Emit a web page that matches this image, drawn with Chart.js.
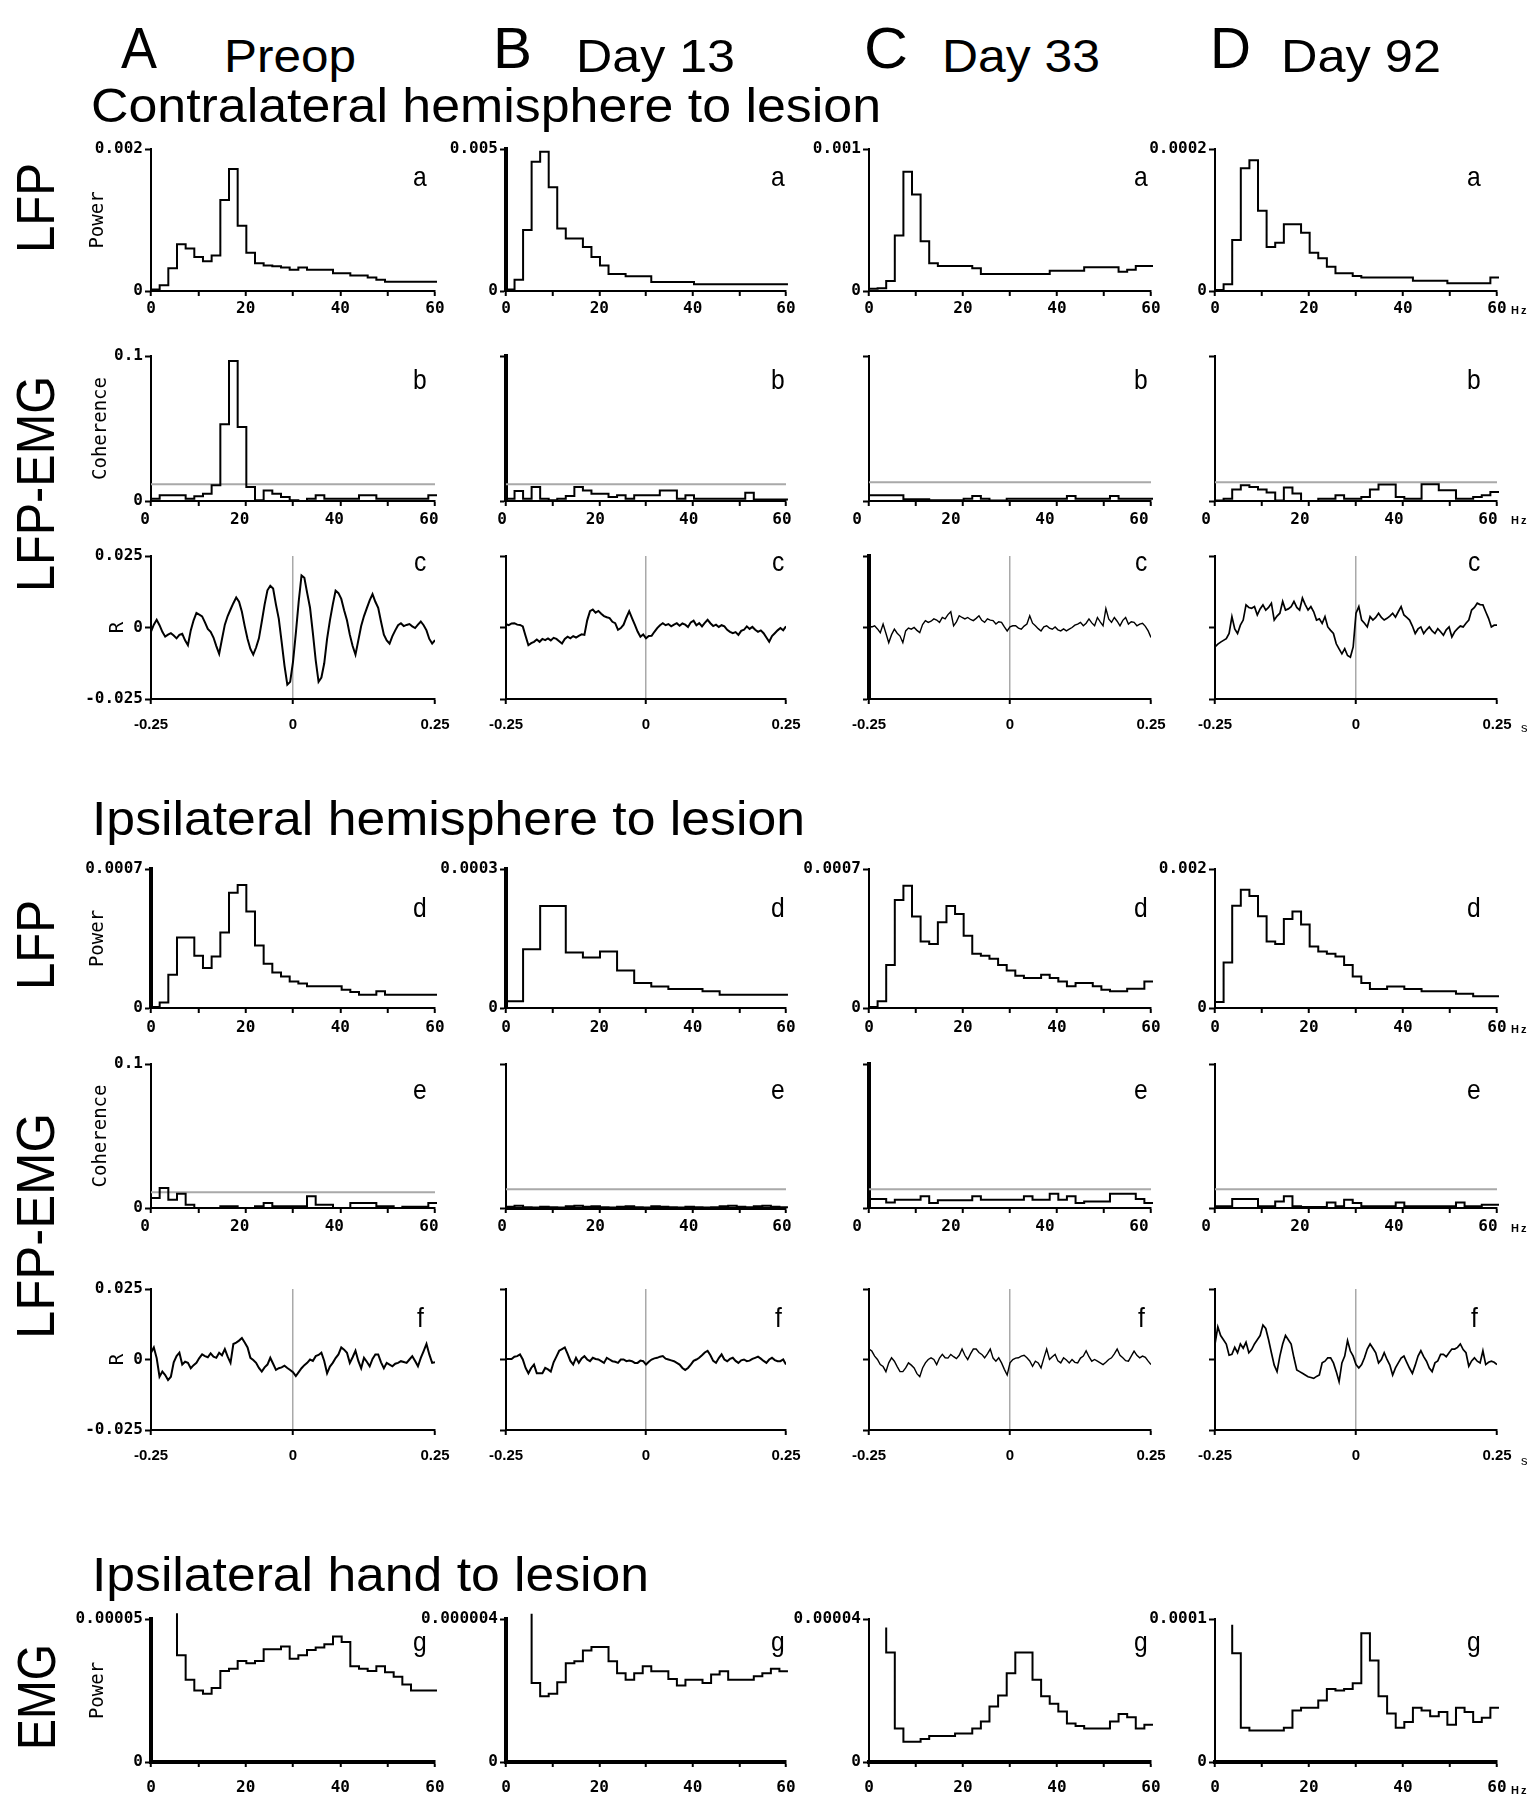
<!DOCTYPE html>
<html>
<head>
<meta charset="utf-8">
<script src="https://cdn.jsdelivr.net/npm/chart.js@4.4.1/dist/chart.umd.min.js"></script>
<style>
  html, body { margin: 0; padding: 0; background: #fff; }
  #page { position: relative; width: 1531px; height: 1802px; overflow: hidden; background: #fff; }
  #page canvas { position: absolute; }
  .lbl { position: absolute; white-space: nowrap; color: #000;
         font-family: "Liberation Sans", Arial, Helvetica, sans-serif; }
</style>
</head>
<body>
<div id="page"></div>
<script>
// ---------------------------------------------------------------------------
// Data
// ---------------------------------------------------------------------------
const sessions = ['Preop', 'Day 13', 'Day 33', 'Day 92'];
const sessionLetters = ['A', 'B', 'C', 'D'];

// Spectral bin edges (Hz); each spectrum value is the level of one bin.
const freqEdges = [0, 1.83, 3.66, 5.49, 7.32, 9.15, 10.98, 12.81, 14.65, 16.48, 18.31,
  20.14, 21.97, 23.8, 25.63, 27.47, 29.3, 31.13, 32.96, 34.79, 36.62, 38.45, 40.28,
  42.11, 43.95, 45.78, 47.61, 49.44, 51.27, 53.1, 54.93, 56.76, 58.59, 60.42];
const freqTickLabels = ['0', '', '20', '', '40', '', '60'];

// Lags (s) of the LFP-EMG cross-correlation
const lagTimes = [-0.25, -0.245, -0.24, -0.235, -0.23, -0.225, -0.22, -0.215, -0.21, -0.205,
  -0.2, -0.195, -0.19, -0.185, -0.18, -0.175, -0.17, -0.165, -0.16, -0.155,
  -0.15, -0.145, -0.14, -0.135, -0.13, -0.125, -0.12, -0.115, -0.11, -0.105,
  -0.1, -0.095, -0.09, -0.085, -0.08, -0.075, -0.07, -0.065, -0.06, -0.055,
  -0.05, -0.045, -0.04, -0.035, -0.03, -0.025, -0.02, -0.015, -0.01, -0.005,
  0, 0.005, 0.01, 0.015, 0.02, 0.025, 0.03, 0.035, 0.04, 0.045,
  0.05, 0.055, 0.06, 0.065, 0.07, 0.075, 0.08, 0.085, 0.09, 0.095,
  0.1, 0.105, 0.11, 0.115, 0.12, 0.125, 0.13, 0.135, 0.14, 0.145,
  0.15, 0.155, 0.16, 0.165, 0.17, 0.175, 0.18, 0.185, 0.19, 0.195,
  0.2, 0.205, 0.21, 0.215, 0.22, 0.225, 0.23, 0.235, 0.24, 0.245, 0.25];
const lagTickLabels = ['-0.25', '0', '0.25'];

// Axis tops
const contraPowerTop = [0.002, 0.005, 0.001, 0.0002];
const contraPowerTopLabels = ['0.002', '0.005', '0.001', '0.0002'];
const ipsiPowerTop = [0.0007, 0.0003, 0.0007, 0.002];
const ipsiPowerTopLabels = ['0.0007', '0.0003', '0.0007', '0.002'];
const emgPowerTop = [0.00005, 0.000004, 0.00004, 0.0001];
const emgPowerTopLabels = ['0.00005', '0.000004', '0.00004', '0.0001'];
const coherenceTop = 0.1;
const coherenceTopLabel = '0.1';
const corrLimit = 0.025;
const corrLimitLabels = ['-0.025', '0', '0.025'];

// 95% confidence levels of coherence
const contraCohThreshold = [0.0115, 0.0115, 0.013, 0.013];
const ipsiCohThreshold = [0.011, 0.013, 0.013, 0.013];

// Contralateral hemisphere: LFP power
const lfpContraPreop = [2e-5, 8e-5, 3.2e-4, 6.6e-4, 6.0e-4, 4.8e-4, 4.2e-4, 5.0e-4, 1.28e-3, 1.72e-3,
  9.2e-4, 5.4e-4, 3.9e-4, 3.6e-4, 3.5e-4, 3.3e-4, 3.0e-4, 3.3e-4, 3.0e-4, 3.0e-4, 3.0e-4,
  2.5e-4, 2.5e-4, 2.2e-4, 2.2e-4, 1.9e-4, 1.6e-4, 1.3e-4, 1.3e-4, 1.3e-4, 1.3e-4, 1.3e-4, 1.3e-4];
const lfpContraDay13 = [5e-5, 4e-4, 2.15e-3, 4.55e-3, 4.9e-3, 3.65e-3, 2.2e-3, 1.85e-3, 1.85e-3, 1.55e-3,
  1.2e-3, 9e-4, 6e-4, 6e-4, 5.2e-4, 5.2e-4, 5.2e-4, 3.2e-4, 3.2e-4, 3.2e-4, 3.2e-4, 3.2e-4,
  2.4e-4, 2.4e-4, 2.4e-4, 2.4e-4, 2.4e-4, 2.4e-4, 2.4e-4, 2.4e-4, 2.4e-4, 2.4e-4, 2.4e-4];
const lfpContraDay33 = [1.5e-5, 2e-5, 7e-5, 3.9e-4, 8.4e-4, 6.8e-4, 3.5e-4, 1.95e-4, 1.76e-4, 1.76e-4,
  1.76e-4, 1.76e-4, 1.6e-4, 1.2e-4, 1.2e-4, 1.2e-4, 1.2e-4, 1.2e-4, 1.2e-4, 1.2e-4, 1.2e-4,
  1.43e-4, 1.43e-4, 1.43e-4, 1.43e-4, 1.67e-4, 1.67e-4, 1.67e-4, 1.67e-4, 1.36e-4, 1.5e-4, 1.76e-4, 1.76e-4];
const lfpContraDay92 = [1.4e-6, 9.4e-6, 7.2e-5, 1.73e-4, 1.84e-4, 1.13e-4, 6.2e-5, 6.8e-5, 9.4e-5, 9.4e-5,
  8.2e-5, 5.4e-5, 4.6e-5, 3.4e-5, 2.5e-5, 2.5e-5, 2.1e-5, 1.9e-5, 1.9e-5, 1.9e-5, 1.9e-5, 1.9e-5,
  1.9e-5, 1.46e-5, 1.46e-5, 1.46e-5, 1.46e-5, 1.08e-5, 1.08e-5, 1.08e-5, 1.08e-5, 1.08e-5, 1.9e-5];

// Contralateral hemisphere: LFP-EMG coherence
const cohContraPreop = [0.0016, 0.004, 0.004, 0.004, 0.0016, 0.0032, 0.005, 0.0108, 0.053, 0.0966,
  0.051, 0.0096, 0.0005, 0.0073, 0.005, 0.0027, 0.0005, 0, 0.0016, 0.004, 0.0016, 0.0016,
  0.0016, 0.0016, 0.004, 0.004, 0.0016, 0.0016, 0.0016, 0.0016, 0.0016, 0.0016, 0.004];
const cohContraDay13 = [0.0016, 0.0069, 0.0016, 0.0096, 0.0016, 0.0005, 0.0016, 0.0034, 0.0096, 0.0073,
  0.005, 0.005, 0.0027, 0.004, 0.0016, 0.004, 0.004, 0.004, 0.0073, 0.0073, 0.0016, 0.004,
  0.0016, 0.0016, 0.0016, 0.0016, 0.0016, 0.0016, 0.0057, 0.001, 0.001, 0.001, 0.001];
const cohContraDay33 = [0.0039, 0.0039, 0.0039, 0.0039, 0.0012, 0.0012, 0.0012, 0.0005, 0.0005, 0.0005,
  0.0005, 0.0016, 0.0035, 0.0016, 0.0003, 0.0003, 0.0016, 0.0016, 0.0016, 0.0016, 0.0016, 0.0016,
  0.0016, 0.0035, 0.0016, 0.0016, 0.0016, 0.0016, 0.0035, 0.0016, 0.0016, 0.0016, 0.0016];
const cohContraDay92 = [0.0003, 0.0016, 0.0079, 0.0109, 0.0097, 0.0079, 0.0058, 0.0003, 0.0093, 0.0051,
  0, 0, 0.0016, 0.0016, 0.004, 0.0016, 0.0016, 0.0028, 0.0079, 0.0113, 0.0113, 0.0028,
  0.0016, 0.0016, 0.0116, 0.0116, 0.0074, 0.0074, 0.0016, 0.0016, 0.0028, 0.004, 0.0062];

// Contralateral hemisphere: LFP-EMG cross-correlation R
const xcorrContraPreop = [-0.0014, 0.0010, 0.0027, 0.0008, -0.0015, -0.0032, -0.0025, -0.0020, -0.0028, -0.0038,
  -0.0026, -0.0022, -0.0045, -0.0062, -0.0010, 0.0025, 0.0051, 0.0045, 0.0039, 0.0018,
  -0.0005, -0.0015, -0.0035, -0.0065, -0.0092, -0.0040, 0.0010, 0.0040, 0.0063, 0.0085,
  0.0105, 0.0090, 0.0055, 0.0005, -0.0040, -0.0075, -0.0095, -0.0070, -0.0038, 0.0020,
  0.0080, 0.0130, 0.0146, 0.0136, 0.0080, 0.0030, -0.0050, -0.0133, -0.0200, -0.0190,
  -0.0120, -0.0020, 0.0090, 0.0182, 0.0174, 0.0120, 0.0069, -0.0020, -0.0115, -0.0190,
  -0.0175, -0.0125, -0.0040, 0.0025, 0.0080, 0.0129, 0.0120, 0.0100, 0.0060, 0.0025,
  -0.0025, -0.0065, -0.0095, -0.0045, 0.0005, 0.0040, 0.0068, 0.0095, 0.0117, 0.0090,
  0.0069, 0.0020, -0.0025, -0.0045, -0.0056, -0.0030, -0.0010, 0.0008, 0.0015, 0.0005,
  0.0009, 0.0012, 0.0004, -0.0002, 0.0010, 0.0021, 0.0008, -0.0010, -0.0040, -0.0056,
  -0.0044];
const xcorrContraDay13 = [0.0012, 0.0008, 0.0014, 0.0015, 0.0010, 0.0009, 0.0004, -0.0030, -0.0062, -0.0055,
  -0.0050, -0.0042, -0.0050, -0.0040, -0.0044, -0.0038, -0.0045, -0.0036, -0.0040, -0.0048,
  -0.0056, -0.0040, -0.0032, -0.0038, -0.0030, -0.0035, -0.0029, -0.0024, -0.0026, 0.0025,
  0.0057, 0.0063, 0.0052, 0.0058, 0.0048, 0.0040, 0.0036, 0.0033, 0.0020, 0.0015,
  -0.0008, -0.0002, 0.0010, 0.0035, 0.0057, 0.0033, 0.0010, -0.0014, -0.0032, -0.0024,
  -0.0038, -0.0030, -0.0029, -0.0015, -0.0002, 0.0008, 0.0015, 0.0008, 0.0012, 0.0004,
  0.0010, 0.0015, 0.0006, 0.0014, 0.0010, 0.0002, 0.0018, 0.0024, 0.0008, 0.0015,
  0.0004, 0.0016, 0.0027, 0.0015, 0.0005, 0.0010, 0.0002, 0.0008, 0.0004, -0.0008,
  -0.0015, -0.0020, -0.0016, -0.0026, -0.0012, -0.0008, 0.0004, -0.0005, 0.0002, -0.0008,
  -0.0015, -0.0010, -0.0020, -0.0035, -0.0050, -0.0030, -0.0020, -0.0010, -0.0002, -0.0010,
  0.0004];
const xcorrContraDay33 = [0.0006, 0.0002, 0.0006, -0.0005, -0.0018, 0.0012, -0.0020, -0.0053, -0.0025, -0.0006,
  -0.0020, -0.0030, -0.0053, -0.0012, -0.0002, -0.0006, 0, -0.0010, -0.0018, 0.0010,
  0.0024, 0.0018, 0.0022, 0.0030, 0.0026, 0.0018, 0.0035, 0.0030, 0.0045, 0.0055,
  0.0006, 0.0020, 0.0041, 0.0035, 0.0030, 0.0035, 0.0028, 0.0024, 0.0032, 0.0041,
  0.0025, 0.0018, 0.0030, 0.0026, 0.0024, 0.0012, 0.0020, 0.0018, 0.0002, -0.0012,
  0.0002, 0.0006, 0.0006, -0.0002, -0.0006, 0.0005, 0.0012, 0.0041, 0.0015, 0.0006,
  -0.0004, -0.0012, 0.0002, 0.0006, -0.0002, -0.0006, 0.0002, -0.0008, -0.0012, -0.0005,
  -0.0012, -0.0006, 0, 0.0008, 0.0012, 0.0018, 0.0006, 0.0015, 0.0030, 0.0016,
  0.0006, 0.0035, 0.0020, 0.0006, 0.0066, 0.0030, 0.0018, 0.0035, 0.0022, 0.0006,
  0.0025, 0.0035, 0.0012, 0.0020, 0.0018, 0.0006, 0.0012, 0.0015, 0.0004, -0.0012,
  -0.0035];
const xcorrContraDay92 = [-0.0068, -0.0058, -0.0051, -0.0045, -0.0039, -0.0021, 0.0038, -0.0005, -0.0021, 0.0008,
  0.0026, 0.0079, 0.0070, 0.0067, 0.0073, 0.0044, 0.0065, 0.0079, 0.0061, 0.0070,
  0.0085, 0.0026, 0.0040, 0.0050, 0.0091, 0.0061, 0.0065, 0.0073, 0.0091, 0.0070,
  0.0061, 0.0103, 0.0080, 0.0061, 0.0073, 0.0055, 0.0026, 0.0030, 0.0014, 0.0038,
  0.0002, -0.0010, -0.0021, -0.0057, -0.0075, -0.0092, -0.0074, -0.0098, -0.0104, -0.0068,
  0.0050, 0.0073, 0.0026, 0.0015, 0.0002, 0.0038, 0.0026, 0.0035, 0.0050, 0.0035,
  0.0026, 0.0032, 0.0040, 0.0050, 0.0036, 0.0055, 0.0073, 0.0044, 0.0035, 0.0026,
  0.0005, -0.0021, -0.0005, 0.0002, -0.0021, -0.0008, 0.0002, -0.0012, -0.0021, -0.0004,
  -0.0015, -0.0027, -0.0008, 0.0002, -0.0033, -0.0015, -0.0004, 0.0005, 0.0002, 0.0015,
  0.0026, 0.0061, 0.0070, 0.0085, 0.0080, 0.0079, 0.0055, 0.0032, 0.0002, 0.0008,
  0.0008];

// Ipsilateral hemisphere: LFP power
const lfpIpsiPreop = [4.9e-6, 2.8e-5, 1.68e-4, 3.55e-4, 3.55e-4, 2.63e-4, 2.01e-4, 2.59e-4, 3.8e-4, 5.81e-4,
  6.2e-4, 4.86e-4, 3.15e-4, 2.23e-4, 1.79e-4, 1.59e-4, 1.33e-4, 1.23e-4, 1.09e-4, 1.09e-4, 1.09e-4,
  1.09e-4, 9.2e-5, 8.1e-5, 6.7e-5, 6.7e-5, 8.4e-5, 6.7e-5, 6.7e-5, 6.7e-5, 6.7e-5, 6.7e-5, 6.7e-5];
const lfpIpsiDay13 = [1.44e-5, 1.44e-5, 1.27e-4, 1.27e-4, 2.2e-4, 2.2e-4, 2.2e-4, 1.2e-4, 1.2e-4, 1.09e-4,
  1.09e-4, 1.22e-4, 1.22e-4, 8.1e-5, 8.1e-5, 5.4e-5, 5.4e-5, 4.65e-5, 4.65e-5, 4.08e-5, 4.08e-5,
  4.08e-5, 4.08e-5, 3.6e-5, 3.6e-5, 2.88e-5, 2.88e-5, 2.88e-5, 2.88e-5, 2.88e-5, 2.88e-5, 2.88e-5, 2.88e-5];
const lfpIpsiDay33 = [4.9e-6, 3.36e-5, 2.17e-4, 5.44e-4, 6.16e-4, 4.61e-4, 3.35e-4, 3.22e-4, 4.32e-4, 5.14e-4,
  4.74e-4, 3.64e-4, 2.73e-4, 2.63e-4, 2.48e-4, 2.17e-4, 1.89e-4, 1.62e-4, 1.51e-4, 1.51e-4, 1.68e-4,
  1.51e-4, 1.33e-4, 1.09e-4, 1.26e-4, 1.26e-4, 1.09e-4, 9.24e-5, 8.4e-5, 8.4e-5, 9.73e-5, 9.73e-5, 1.33e-4];
const lfpIpsiDay92 = [8.6e-5, 6.56e-4, 1.47e-3, 1.7e-3, 1.61e-3, 1.32e-3, 9.56e-4, 9.2e-4, 1.28e-3, 1.39e-3,
  1.2e-3, 8.86e-4, 8.14e-4, 7.8e-4, 7.4e-4, 6.2e-4, 4.54e-4, 3.6e-4, 2.72e-4, 2.72e-4, 3.1e-4,
  3.1e-4, 2.72e-4, 2.72e-4, 2.4e-4, 2.4e-4, 2.4e-4, 2.4e-4, 2.06e-4, 2.06e-4, 1.68e-4, 1.68e-4, 1.68e-4];

// Ipsilateral hemisphere: LFP-EMG coherence
const cohIpsiPreop = [0.0069, 0.0139, 0.0058, 0.0099, 0.0023, 0, 0, 0, 0.0012, 0.0012,
  0, 0, 0.0012, 0.0035, 0.0012, 0.0012, 0.0012, 0.0012, 0.0081, 0.0023, 0.0023, 0,
  0, 0.0035, 0.0035, 0.0035, 0.0012, 0.0012, 0, 0.0008, 0.0008, 0.0008, 0.0035];
const cohIpsiDay13 = [0.0008, 0.0015, 0.0005, 0.0003, 0.0008, 0.0005, 0.0003, 0.0012, 0.0015, 0.0008,
  0.0012, 0.0005, 0.0003, 0.0008, 0.0012, 0.0005, 0.0003, 0.0012, 0.0008, 0.0005, 0.0003,
  0.0008, 0.0005, 0.0003, 0.0005, 0.0012, 0.0015, 0.0008, 0.0005, 0.0012, 0.0015, 0.0008, 0.0005];
const cohIpsiDay33 = [0.0062, 0.0062, 0.0039, 0.0058, 0.0058, 0.0058, 0.0081, 0.0035, 0.0053, 0.0053,
  0.0053, 0.0053, 0.0081, 0.0058, 0.0058, 0.0058, 0.0058, 0.0058, 0.0081, 0.0058, 0.0058,
  0.0099, 0.0058, 0.0081, 0.0035, 0.0046, 0.0046, 0.0046, 0.0099, 0.0099, 0.0099, 0.0062, 0.0035];
const cohIpsiDay92 = [0.0012, 0.0012, 0.0062, 0.0062, 0.0062, 0.0012, 0.0012, 0.0046, 0.0081, 0.0012,
  0.0007, 0.0007, 0.0007, 0.0039, 0.0012, 0.0058, 0.0035, 0.0012, 0.0012, 0.0012, 0.0012,
  0.0039, 0.0012, 0.0012, 0.0012, 0.0012, 0.0012, 0.0012, 0.0039, 0.0012, 0.0012, 0.0023, 0.0023];

// Ipsilateral hemisphere: LFP-EMG cross-correlation R
const xcorrIpsiPreop = [0.0024, 0.0043, 0.0005, -0.0061, -0.0043, -0.0055, -0.0073, -0.0061, -0.0010, 0.0012,
  0.0024, -0.0018, -0.0008, -0.0012, -0.0031, -0.0020, -0.0012, 0.0005, 0.0018, 0.0012,
  0.0008, 0.0022, 0.0010, 0.0006, 0.0024, 0.0015, 0.0037, 0.0010, -0.0012, 0.0055,
  0.0060, 0.0067, 0.0076, 0.0060, 0.0043, 0.0006, -0.0002, -0.0012, -0.0030, -0.0043,
  -0.0028, -0.0018, 0.0006, -0.0015, -0.0037, -0.0031, -0.0028, -0.0022, -0.0030, -0.0037,
  -0.0045, -0.0059, -0.0045, -0.0031, -0.0020, -0.0012, 0, -0.0005, 0.0012, 0.0016,
  0.0024, -0.0005, -0.0049, -0.0025, -0.0012, 0.0005, 0.0018, 0.0043, 0.0035, 0.0024,
  -0.0012, 0.0008, 0.0031, -0.0005, -0.0031, 0.0006, -0.0008, -0.0024, 0.0002, 0.0018,
  0.0018, -0.0010, -0.0031, -0.0012, -0.0018, -0.0024, -0.0015, -0.0012, -0.0006, -0.0009,
  -0.0012, 0, 0.0012, -0.0005, -0.0024, 0.0006, 0.0030, 0.0055, 0.0018, -0.0012,
  -0.0010];
const xcorrIpsiDay13 = [0.0002, 0.0002, 0.0002, 0.0010, 0.0012, 0.0018, 0, -0.0030, -0.0049, -0.0030,
  -0.0018, -0.0049, -0.0049, -0.0049, -0.0030, -0.0035, -0.0043, -0.0010, 0.0010, 0.0031,
  0.0037, 0.0043, 0.0020, -0.0005, -0.0018, 0.0006, -0.0012, 0.0004, 0.0012, 0,
  -0.0006, 0.0006, 0.0002, 0, -0.0006, -0.0012, 0.0006, 0, -0.0006, -0.0008,
  -0.0012, 0, 0, -0.0006, -0.0004, -0.0006, -0.0012, -0.0012, -0.0004, -0.0006,
  -0.0018, -0.0008, 0, 0.0004, 0.0006, 0.0010, 0.0012, 0.0003, 0, -0.0003,
  -0.0006, -0.0012, -0.0018, -0.0030, -0.0037, -0.0030, -0.0018, -0.0005, 0, 0.0006,
  0.0015, 0.0025, 0.0031, 0.0015, -0.0005, -0.0012, 0.0005, 0.0018, 0, -0.0006,
  0.0002, 0.0006, -0.0005, -0.0012, -0.0003, 0, -0.0006, -0.0004, 0.0002, 0.0006,
  0.0010, 0.0003, -0.0005, -0.0012, 0, 0.0006, -0.0002, -0.0006, -0.0006, 0,
  -0.0018];
const xcorrIpsiDay33 = [0.0037, 0.0030, 0.0012, 0, -0.0018, -0.0025, -0.0043, -0.0012, 0.0006, -0.0006,
  -0.0025, -0.0043, -0.0043, -0.0030, -0.0012, -0.0020, -0.0030, -0.0050, -0.0061, -0.0030,
  -0.0012, 0, 0.0006, 0, -0.0018, 0.0005, 0.0018, 0.0006, 0.0005, 0.0018,
  0.0010, 0.0003, 0.0015, 0.0037, 0.0015, 0, 0.0020, 0.0037, 0.0037, 0.0025,
  0.0018, 0.0006, 0.0020, 0.0037, 0.0005, -0.0006, 0.0006, -0.0012, -0.0035, -0.0055,
  -0.0012, 0, 0.0005, 0.0006, 0.0012, 0.0015, 0.0006, -0.0005, -0.0024, -0.0006,
  -0.0012, -0.0030, 0.0005, 0.0037, 0, 0.0010, 0.0018, -0.0005, -0.0012, 0.0006,
  -0.0002, -0.0012, 0, -0.0010, -0.0012, 0.0005, 0.0012, 0.0031, 0.0010, -0.0006,
  0, -0.0006, -0.0012, -0.0018, -0.0010, 0, 0.0006, 0.0020, 0.0037, 0.0015,
  0.0006, -0.0004, -0.0006, 0.0012, 0.0030, 0.0015, 0.0006, 0.0012, 0.0008, -0.0006,
  -0.0018];
const xcorrIpsiDay92 = [0.0055, 0.0116, 0.0085, 0.0070, 0.0055, 0.0015, 0.0018, 0.0043, 0.0024, 0.0055,
  0.0040, 0.0061, 0.0024, 0.0035, 0.0055, 0.0070, 0.0085, 0.0122, 0.0110, 0.0070,
  0.0024, -0.0020, -0.0043, 0.0012, 0.0055, 0.0085, 0.0070, 0.0055, 0.0006, -0.0037,
  -0.0043, -0.0049, -0.0055, -0.0061, -0.0064, -0.0067, -0.0060, -0.0055, -0.0012, -0.0006,
  0.0006, 0.0006, -0.0012, -0.0043, -0.0079, -0.0012, 0.0012, 0.0067, 0.0030, 0.0012,
  -0.0018, -0.0030, -0.0018, 0.0006, 0.0037, 0.0055, 0.0040, 0.0024, -0.0012, 0,
  0.0024, 0, -0.0020, -0.0055, -0.0030, -0.0012, 0.0005, 0.0012, -0.0010, -0.0031,
  -0.0049, -0.0020, 0.0012, 0.0031, 0.0010, -0.0006, -0.0030, -0.0043, -0.0012, -0.0005,
  0.0018, 0.0018, 0.0010, 0.0024, 0.0037, 0.0037, 0.0043, 0.0055, 0.0035, 0.0024,
  -0.0024, -0.0005, 0.0006, -0.0006, -0.0012, 0.0031, -0.0018, -0.0010, -0.0006, -0.0010,
  -0.0018];

// Ipsilateral hand: EMG power (leading bins below the high-pass edge are not shown)
const emgPreop = [null, null, 5.2e-5, 3.73e-5, 2.88e-5, 2.5e-5, 2.39e-5, 2.59e-5, 3.18e-5, 3.26e-5,
  3.53e-5, 3.45e-5, 3.53e-5, 3.94e-5, 3.94e-5, 4.04e-5, 3.61e-5, 3.73e-5, 3.92e-5, 4.0e-5, 4.12e-5,
  4.39e-5, 4.2e-5, 3.35e-5, 3.26e-5, 3.18e-5, 3.35e-5, 3.14e-5, 2.98e-5, 2.71e-5, 2.5e-5, 2.5e-5, 2.5e-5];
const emgDay13 = [null, null, 4.15e-6, 2.21e-6, 1.84e-6, 1.91e-6, 2.23e-6, 2.76e-6, 2.82e-6, 3.12e-6,
  3.22e-6, 3.22e-6, 2.82e-6, 2.48e-6, 2.3e-6, 2.48e-6, 2.68e-6, 2.54e-6, 2.54e-6, 2.32e-6, 2.14e-6,
  2.3e-6, 2.3e-6, 2.21e-6, 2.45e-6, 2.54e-6, 2.3e-6, 2.3e-6, 2.3e-6, 2.4e-6, 2.48e-6, 2.61e-6, 2.54e-6];
const emgDay33 = [null, 3.76e-5, 3.06e-5, 9.4e-6, 5.64e-6, 5.64e-6, 6.4e-6, 7.24e-6, 7.24e-6, 7.24e-6,
  8.0e-6, 8.0e-6, 9.4e-6, 1.13e-5, 1.55e-5, 1.86e-5, 2.48e-5, 3.06e-5, 3.06e-5, 2.3e-5, 1.84e-5,
  1.63e-5, 1.41e-5, 1.08e-5, 1.01e-5, 9.4e-6, 9.4e-6, 9.4e-6, 1.13e-5, 1.34e-5, 1.25e-5, 9.4e-6, 1.04e-5];
const emgDay92 = [null, 9.6e-5, 7.6e-5, 2.4e-5, 2.2e-5, 2.2e-5, 2.2e-5, 2.2e-5, 2.4e-5, 3.6e-5,
  3.8e-5, 3.8e-5, 4.3e-5, 5.1e-5, 5.0e-5, 5.1e-5, 5.5e-5, 9.0e-5, 7.1e-5, 4.6e-5, 3.4e-5,
  2.4e-5, 2.8e-5, 3.8e-5, 3.6e-5, 3.2e-5, 3.5e-5, 2.6e-5, 3.8e-5, 3.5e-5, 2.8e-5, 3.1e-5, 3.8e-5];

// ---------------------------------------------------------------------------
// Layout (page pixels)
// ---------------------------------------------------------------------------
const colLeft = [151, 506, 869, 1215];
const colRight = [435, 786, 1151, 1497];
const FONT = '"Liberation Sans", Arial, Helvetica, sans-serif';
const MONO = '"DejaVu Sans Mono", "Liberation Mono", monospace';
const noShift = [0, 0, 0, 0];
const cohLabelShift = [-6, -4, -12, -9];

const rows = [
  { id: 'a', kind: 'spec', top: 149, bottom: 291, series: [lfpContraPreop, lfpContraDay13, lfpContraDay33, lfpContraDay92],
    yMax: contraPowerTop, yMaxLabels: contraPowerTopLabels, title: 'Power', titleX: 98, start: 0,
    xPad: 3, labelShift: noShift, yAxisW: [2, 4, 2, 2], xAxisW: [2, 2, 2, 2], letterBase: 187, labelY: 310 },
  { id: 'b', kind: 'coh', top: 356, bottom: 501, series: [cohContraPreop, cohContraDay13, cohContraDay33, cohContraDay92],
    threshold: contraCohThreshold, title: 'Coherence', titleX: 101, start: 0,
    xPad: 4, labelShift: cohLabelShift, yAxisW: [2, 4, 2, 2], xAxisW: [2, 2, 2, 2], letterBase: 390, labelY: 520 },
  { id: 'c', kind: 'xcorr', top: 556, bottom: 699, series: [xcorrContraPreop, xcorrContraDay13, xcorrContraDay33, xcorrContraDay92],
    title: 'R', titleX: 118, xPad: 12, labelShift: noShift, yAxisW: [2, 2, 4, 2], xAxisW: [2, 2, 2, 2], lineW: [2, 2, 1.4, 1.7],
    letterBase: 572, labelY: 727 },
  { id: 'd', kind: 'spec', top: 869, bottom: 1008, series: [lfpIpsiPreop, lfpIpsiDay13, lfpIpsiDay33, lfpIpsiDay92],
    yMax: ipsiPowerTop, yMaxLabels: ipsiPowerTopLabels, title: 'Power', titleX: 98, start: 0,
    xPad: 5, labelShift: noShift, yAxisW: [4, 4, 2, 2], xAxisW: [2, 2, 2, 2], letterBase: 918, labelY: 1029 },
  { id: 'e', kind: 'coh', top: 1064, bottom: 1208, series: [cohIpsiPreop, cohIpsiDay13, cohIpsiDay33, cohIpsiDay92],
    threshold: ipsiCohThreshold, title: 'Coherence', titleX: 101, start: 0,
    xPad: 4, labelShift: cohLabelShift, yAxisW: [2, 2, 4, 2], xAxisW: [2, 3, 2, 2], letterBase: 1100, labelY: 1228 },
  { id: 'f', kind: 'xcorr', top: 1289, bottom: 1430, series: [xcorrIpsiPreop, xcorrIpsiDay13, xcorrIpsiDay33, xcorrIpsiDay92],
    title: 'R', titleX: 118, xPad: 12, labelShift: noShift, yAxisW: [2, 2, 2, 2], xAxisW: [2, 2, 2, 2], lineW: [2, 2, 1.4, 1.7],
    letterBase: 1328, labelY: 1460 },
  { id: 'g', kind: 'spec', top: 1619, bottom: 1762, series: [emgPreop, emgDay13, emgDay33, emgDay92],
    yMax: emgPowerTop, yMaxLabels: emgPowerTopLabels, title: 'Power', titleX: 98, start: null,
    xPad: 11, labelShift: noShift, yAxisW: [4, 4, 2, 2], xAxisW: [4, 4, 4, 4], letterBase: 1652, labelY: 1790 }
];

const page = document.getElementById('page');
Chart.defaults.font.family = FONT;
Chart.defaults.color = '#000';

function stepPoints(start, bins) {
  const pts = [{ x: freqEdges[0], y: start }];
  bins.forEach((v, i) => pts.push({ x: freqEdges[i + 1], y: v }));
  return pts;
}
function tracePoints(vals) {
  return vals.map((v, i) => ({ x: lagTimes[i], y: v }));
}

function buildPanel(row, ci) {
  const padL = 100, padR = 36, padT = 14, padB = 44;
  const left = colLeft[ci], right = colRight[ci];
  const W = padL + (right - left) + padR;
  const H = padT + (row.bottom - row.top) + padB;
  const cv = document.createElement('canvas');
  cv.width = W; cv.height = H;
  cv.style.left = (left - padL) + 'px';
  cv.style.top = (row.top - padT) + 'px';
  cv.style.width = W + 'px';
  cv.style.height = H + 'px';
  page.appendChild(cv);

  const isTime = row.kind === 'xcorr';
  let yMin, yMax, yLabelFor;
  if (row.kind === 'spec') {
    yMin = 0; yMax = row.yMax[ci];
    yLabelFor = v => (Math.abs(v) < 1e-15 ? '0' : row.yMaxLabels[ci]);
  } else if (row.kind === 'coh') {
    yMin = 0; yMax = coherenceTop;
    yLabelFor = v => (ci !== 0 ? '' : (Math.abs(v) < 1e-15 ? '0' : coherenceTopLabel));
  } else {
    yMin = -corrLimit; yMax = corrLimit;
    yLabelFor = v => (ci !== 0 ? '' : corrLimitLabels[Math.round(v / corrLimit) + 1]);
  }

  const datasets = [];
  if (isTime) {
    datasets.push({ data: tracePoints(row.series[ci]), borderColor: '#000',
      borderWidth: row.lineW[ci], pointRadius: 0, tension: 0, fill: false });
  } else {
    datasets.push({ data: stepPoints(row.start, row.series[ci]), borderColor: '#000',
      borderWidth: 2, pointRadius: 0, stepped: 'after', fill: false, spanGaps: false,
      clip: { left: 2, top: 10, right: 2, bottom: 2 } });
  }
  if (row.threshold) {
    datasets.push({ data: [{ x: 0, y: row.threshold[ci] }, { x: 60, y: row.threshold[ci] }],
      borderColor: '#a9a9a9', borderWidth: 2, pointRadius: 0, fill: false });
  }

  // axis title: centre it at titleX on the page
  const titleSize = 19, titleLH = titleSize * 1.2;
  const titlePadTop = row.titleX - (left - padL) - titleLH / 2;

  new Chart(cv, {
    type: 'line',
    data: { datasets },
    options: {
      responsive: false, animation: false, devicePixelRatio: 1, events: [],
      layout: { padding: { top: padT, right: padR, left: 0, bottom: 0 } },
      plugins: { legend: { display: false }, tooltip: { enabled: false } },
      scales: {
        x: {
          type: 'linear',
          min: isTime ? lagTimes[0] : 0,
          max: isTime ? lagTimes[lagTimes.length - 1] : 60,
          afterFit: s => { s.height = padB; },
          border: { display: true, color: '#000', width: row.xAxisW[ci] },
          grid: {
            drawOnChartArea: isTime,
            color: c => (isTime && c.tick && Math.abs(c.tick.value) < 1e-9 ? '#a9a9a9' : 'rgba(0,0,0,0)'),
            lineWidth: 1.5,
            tickColor: '#000', tickLength: 5, tickWidth: 2
          },
          ticks: {
            stepSize: isTime ? 0.25 : 10, autoSkip: false, maxRotation: 0, minRotation: 0,
            padding: row.xPad, labelOffset: row.labelShift[ci], color: '#000',
            font: isTime ? { family: FONT, size: 15, weight: 'bold' } : { family: MONO, size: 16, weight: 'bold' },
            callback: v => isTime ? lagTickLabels[Math.round(v / 0.25) + 1]
                                  : freqTickLabels[Math.round(v / 10)]
          }
        },
        y: {
          min: yMin, max: yMax,
          afterFit: s => { s.width = padL; },
          border: { display: true, color: '#000', width: row.yAxisW[ci] },
          grid: { drawOnChartArea: false, tickColor: '#000', tickLength: 6, tickWidth: 2 },
          ticks: {
            stepSize: isTime ? corrLimit : yMax, autoSkip: false, padding: 2,
            color: '#000', font: { family: MONO, size: 16, weight: 'bold' },
            callback: v => yLabelFor(v)
          },
          title: {
            display: ci === 0, text: row.title, color: '#000',
            font: { family: MONO, size: titleSize, lineHeight: 1.2 },
            padding: { top: titlePadTop, bottom: 0 }
          }
        }
      }
    }
  });
}

// ---------------------------------------------------------------------------
// Text
// ---------------------------------------------------------------------------
function addText(str, x, baseline, size, opts) {
  opts = opts || {};
  const d = document.createElement('div');
  d.className = 'lbl';
  d.textContent = str;
  d.style.fontSize = size + 'px';
  d.style.lineHeight = size + 'px';
  if (opts.weight) d.style.fontWeight = opts.weight;
  if (opts.spacing) d.style.letterSpacing = opts.spacing + 'px';
  page.appendChild(d);
  const w = d.getBoundingClientRect().width;
  const k = opts.width ? opts.width / w : (opts.scale || 1);
  const drawnW = w * k;
  const lx = opts.center ? x - drawnW / 2 : x;
  d.style.left = lx + 'px';
  d.style.top = (baseline - 0.8465 * size) + 'px';
  d.style.transformOrigin = '0 0';
  d.style.transform = 'scaleX(' + k + ')';
}
function addVerticalText(str, cx, cy, size, length) {
  const d = document.createElement('div');
  d.className = 'lbl';
  d.textContent = str;
  d.style.fontSize = size + 'px';
  d.style.lineHeight = size + 'px';
  page.appendChild(d);
  const w = d.getBoundingClientRect().width;
  d.style.left = (cx - w / 2) + 'px';
  d.style.top = (cy - size / 2) + 'px';
  d.style.transformOrigin = '50% 50%';
  d.style.transform = 'rotate(-90deg) scaleX(' + (length / w) + ')';
}

// Session headers
const letterX = [121, 493, 864, 1210], letterW = [36, 39, 44, 41];
const sessionX = [224, 576, 942, 1281], sessionW = [132, 159, 158, 160];
sessionLetters.forEach((t, i) => addText(t, letterX[i], 68, 58, { width: letterW[i] }));
sessions.forEach((t, i) => addText(t, sessionX[i], 72, 46, { width: sessionW[i] }));

// Section titles
addText('Contralateral hemisphere to lesion', 91, 123, 48, { width: 790 });
addText('Ipsilateral hemisphere to lesion', 92, 836, 48, { width: 713 });
addText('Ipsilateral hand to lesion', 92, 1592, 48, { width: 557 });

// Signal labels on the left
addVerticalText('LFP', 35, 208, 54, 90);
addVerticalText('LFP-EMG', 35, 484, 54, 216);
addVerticalText('LFP', 35, 945, 54, 90);
addVerticalText('LFP-EMG', 35, 1226, 54, 226);
addVerticalText('EMG', 35, 1697, 54, 106);

// Panels, panel letters and units
const letterCenters = [420, 778, 1141, 1474];
rows.forEach(row => {
  for (let ci = 0; ci < 4; ci++) {
    buildPanel(row, ci);
    addText(row.id, letterCenters[ci], row.letterBase, 28, { center: true, scale: 0.88 });
  }
  if (row.kind === 'xcorr') addText('s', 1521, row.labelY + 5, 13);
  else addText('Hz', 1511, row.labelY + 4, 11, { weight: 'bold', spacing: 2 });
});
</script>
</body>
</html>
